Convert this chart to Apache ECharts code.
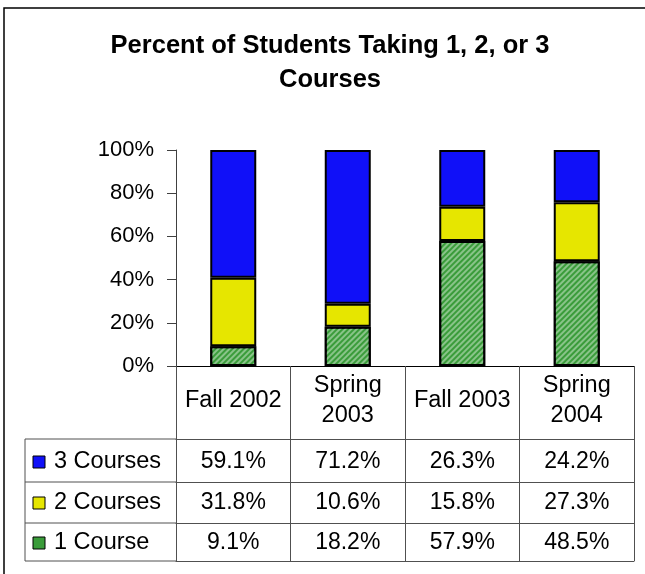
<!DOCTYPE html>
<html>
<head>
<meta charset="utf-8">
<script src="https://cdn.jsdelivr.net/npm/echarts@6/dist/echarts.min.js"></script>
<style>
  html, body { margin: 0; padding: 0; background: #fff; }
  #chart { width: 645px; height: 574px; }
</style>
</head>
<body>
<div id="chart"></div>
<script>
// data
var categories = ["Fall 2002", "Spring\n2003", "Fall 2003", "Spring\n2004"];
var threeCourses = [59.1, 71.2, 26.3, 24.2];
var twoCourses = [31.8, 10.6, 15.8, 27.3];
var oneCourse = [9.1, 18.2, 57.9, 48.5];

var FONT = "'Liberation Sans', Arial, sans-serif";
var blue = "#1010f8";
var yellow = "#e6e600";
var green = "#3a9c3a";
var tableLine = "#505050";

// rows of the data table, top to bottom
var rows = [
  { name: "3 Courses", values: threeCourses, color: blue },
  { name: "2 Courses", values: twoCourses, color: yellow },
  { name: "1 Course", values: oneCourse, color: green },
];
var rowOffsets = [73, 116, 157]; // distance of row top below the x axis
var rowHeights = [43, 41, 38];
var rowMargins = [23, 21, 20];

var chart = echarts.init(document.getElementById("chart"));

function fmt(v) {
  return v.toFixed(1) + "%";
}

var xAxes = [
  {
    type: "category",
    data: categories,
    position: "bottom",
    axisLine: { show: true, lineStyle: { color: "#000", width: 1 } },
    axisTick: { show: true, interval: 0, length: 73, lineStyle: { color: tableLine } },
    axisLabel: {
      interval: 0,
      hideOverlap: false,
      fontFamily: FONT,
      fontSize: 23.5,
      color: "#000",
      lineHeight: 30,
      align: "center",
      verticalAlign: "middle",
      margin: 35,
    },
  },
];
rows.forEach(function (r, i) {
  xAxes.push({
    type: "category",
    data: categories,
    position: "bottom",
    offset: rowOffsets[i],
    axisLine: { show: true, lineStyle: { color: tableLine, width: 1 } },
    axisTick: { show: true, interval: 0, length: rowHeights[i], lineStyle: { color: tableLine } },
    axisLabel: {
      interval: 0,
      hideOverlap: false,
      fontFamily: FONT,
      fontSize: 23,
      color: "#000",
      verticalAlign: "middle",
      margin: rowMargins[i],
      formatter: function (val, idx) {
        return fmt(r.values[idx]);
      },
    },
  });
});
// bottom border of the table
xAxes.push({
  type: "category",
  data: categories,
  position: "bottom",
  offset: 195,
  axisLine: { show: true, lineStyle: { color: tableLine, width: 1 } },
  axisTick: { show: false },
  axisLabel: { show: false },
});

// frame, title, legend keys and the left part of the table
var graphics = [
  {
    type: "rect",
    shape: { x: 4, y: 8, width: 700, height: 700 },
    style: { fill: "none", stroke: "#000", lineWidth: 1.5 },
    silent: true,
  },
  {
    type: "text",
    x: 330,
    y: 29,
    style: {
      text: "Percent of Students Taking 1, 2, or 3\nCourses",
      fontFamily: FONT,
      fontSize: 25.5,
      fontWeight: "bold",
      lineHeight: 34,
      fill: "#000",
      align: "center",
      verticalAlign: "top",
    },
  },
  {
    type: "line",
    shape: { x1: 25, y1: 439, x2: 25, y2: 561 },
    style: { stroke: tableLine, lineWidth: 1 },
  },
];
var lineYs = [439, 482, 523, 561];
lineYs.forEach(function (y) {
  graphics.push({
    type: "line",
    shape: { x1: 25, y1: y, x2: 176, y2: y },
    style: { stroke: tableLine, lineWidth: 1 },
  });
});
rows.forEach(function (r, i) {
  var cy = 439 + rowOffsets[i] - 73 + rowMargins[i];
  graphics.push({
    type: "rect",
    shape: { x: 33, y: cy - 6, width: 12, height: 12 },
    style: { fill: r.color, stroke: "#000", lineWidth: 1 },
  });
  graphics.push({
    type: "text",
    x: 54,
    y: cy,
    style: {
      text: r.name,
      fontFamily: FONT,
      fontSize: 23.5,
      fill: "#000",
      verticalAlign: "middle",
    },
  });
});

function barSeries(name, data, color, decal) {
  return {
    name: name,
    type: "bar",
    stack: "total",
    barWidth: 46,
    data: data,
    itemStyle: {
      color: color,
      borderColor: "#000",
      borderWidth: 2,
      decal: decal,
    },
  };
}

chart.setOption({
  animation: false,
  grid: { left: 176, right: 11, top: 150, bottom: 208 },
  xAxis: xAxes,
  yAxis: {
    type: "value",
    min: 0,
    max: 100,
    interval: 20,
    axisLine: { show: true, lineStyle: { color: "#404040" } },
    axisTick: { show: true, length: 9, lineStyle: { color: "#404040" } },
    splitLine: { show: false },
    axisLabel: {
      fontFamily: FONT,
      fontSize: 22,
      color: "#000",
      margin: 22,
      formatter: "{value}%",
    },
  },
  series: [
    barSeries("1 Course", oneCourse, green, {
      symbol: "rect",
      color: "rgba(255,255,255,0.4)",
      dashArrayX: [1, 0],
      dashArrayY: [2, 2],
      rotation: -Math.PI / 4,
    }),
    barSeries("2 Courses", twoCourses, yellow),
    barSeries("3 Courses", threeCourses, blue),
  ],
  graphic: graphics,
});
</script>
</body>
</html>
